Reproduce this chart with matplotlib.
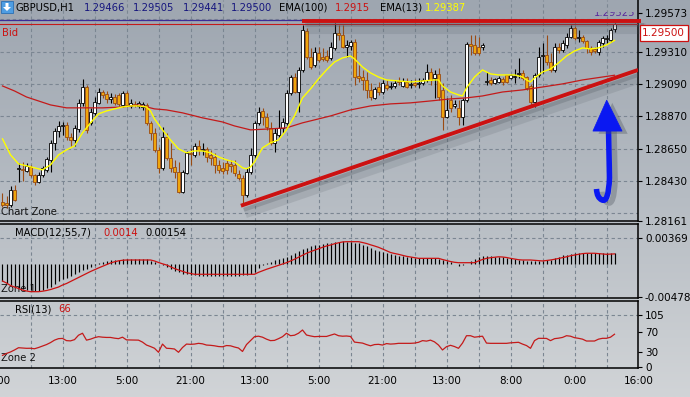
import numpy as np
import matplotlib
matplotlib.use("Agg")
import matplotlib.pyplot as plt
import matplotlib.patheffects as pe
from matplotlib.colors import LinearSegmentedColormap
from matplotlib.patches import Rectangle, Polygon, PathPatch
from matplotlib.path import Path
from matplotlib.transforms import Bbox, blended_transform_factory

# GBPUSD H1 candles (bar index 0 = left edge)
open_ = [
    1.28288, 1.28282, 1.28268, 1.28370, 1.28513, 1.28513, 1.28499, 1.28526, 1.28472, 1.28424,  # 0
    1.28472, 1.28506, 1.28574, 1.28690, 1.28771, 1.28805, 1.28812, 1.28730, 1.28710, 1.28785,  # 10
    1.28962, 1.29070, 1.28826, 1.28894, 1.28962, 1.29036, 1.29023, 1.28989, 1.29002, 1.29016,  # 20
    1.28948, 1.29030, 1.28941, 1.28955, 1.28941, 1.28934, 1.28948, 1.28826, 1.28758, 1.28642,  # 30
    1.28520, 1.28730, 1.28588, 1.28526, 1.28492, 1.28356, 1.28486, 1.28622, 1.28608, 1.28669,  # 40
    1.28642, 1.28649, 1.28608, 1.28594, 1.28540, 1.28520, 1.28554, 1.28547, 1.28540, 1.28479,  # 50
    1.28452, 1.28336, 1.28492, 1.28608, 1.28826, 1.28907, 1.28866, 1.28792, 1.28690, 1.28744,  # 60
    1.28792, 1.28826, 1.29030, 1.29138, 1.29036, 1.29186, 1.29451, 1.29274, 1.29220, 1.29302,  # 70
    1.29274, 1.29281, 1.29268, 1.29336, 1.29438, 1.29424, 1.29342, 1.29349, 1.29376, 1.29145,  # 80
    1.29138, 1.29118, 1.29050, 1.28996, 1.29070, 1.29036, 1.29084, 1.29070, 1.29077, 1.29111,  # 90
    1.29077, 1.29104, 1.29084, 1.29098, 1.29091, 1.29098, 1.29118, 1.29172, 1.29132, 1.29159,  # 100
    1.29050, 1.28866, 1.28982, 1.28941, 1.28928, 1.28866, 1.28982, 1.29363, 1.29356, 1.29342,  # 110
    1.29342, 1.29104, 1.29118, 1.29098, 1.29104, 1.29125, 1.29152, 1.29132, 1.29138, 1.29159,  # 120
    1.29166, 1.29138, 1.29077, 1.28968, 1.29152, 1.29281, 1.29288, 1.29240, 1.29186, 1.29342,  # 130
    1.29322, 1.29356, 1.29410, 1.29472, 1.29404, 1.29410, 1.29383, 1.29336, 1.29329, 1.29308,  # 140
    1.29370, 1.29397, 1.29390, 1.29466,  # 150
]
high = [
    1.28350, 1.28329, 1.28397, 1.28404, 1.28554, 1.28560, 1.28554, 1.28540, 1.28479, 1.28492,  # 0
    1.28533, 1.28594, 1.28710, 1.28792, 1.28839, 1.28832, 1.28832, 1.28758, 1.28812, 1.28989,  # 10
    1.29125, 1.29084, 1.28928, 1.29002, 1.29064, 1.29050, 1.29043, 1.29030, 1.29023, 1.29030,  # 20
    1.29043, 1.29043, 1.28989, 1.28975, 1.28975, 1.28968, 1.28962, 1.28839, 1.28792, 1.28662,  # 30
    1.28798, 1.28758, 1.28690, 1.28574, 1.28560, 1.28506, 1.28635, 1.28656, 1.28690, 1.28710,  # 40
    1.28690, 1.28662, 1.28642, 1.28622, 1.28574, 1.28560, 1.28574, 1.28574, 1.28574, 1.28506,  # 50
    1.28472, 1.28520, 1.28656, 1.28839, 1.28934, 1.28928, 1.28894, 1.28832, 1.28792, 1.28914,  # 60
    1.28860, 1.29050, 1.29152, 1.29166, 1.29206, 1.29492, 1.29472, 1.29336, 1.29342, 1.29342,  # 70
    1.29336, 1.29322, 1.29376, 1.29506, 1.29492, 1.29492, 1.29390, 1.29390, 1.29397, 1.29220,  # 80
    1.29186, 1.29172, 1.29098, 1.29070, 1.29104, 1.29118, 1.29118, 1.29104, 1.29118, 1.29138,  # 90
    1.29132, 1.29132, 1.29118, 1.29125, 1.29132, 1.29132, 1.29227, 1.29200, 1.29186, 1.29200,  # 100
    1.29098, 1.28996, 1.29016, 1.28982, 1.28982, 1.28996, 1.29376, 1.29424, 1.29424, 1.29410,  # 110
    1.29370, 1.29172, 1.29138, 1.29132, 1.29145, 1.29138, 1.29152, 1.29159, 1.29193, 1.29268,  # 120
    1.29186, 1.29145, 1.29091, 1.29166, 1.29342, 1.29370, 1.29424, 1.29302, 1.29370, 1.29370,  # 130
    1.29390, 1.29438, 1.29492, 1.29485, 1.29458, 1.29424, 1.29390, 1.29349, 1.29342, 1.29390,  # 140
    1.29417, 1.29424, 1.29472, 1.29505,  # 150
]
low = [
    1.28254, 1.28248, 1.28254, 1.28295, 1.28424, 1.28431, 1.28492, 1.28458, 1.28404, 1.28418,  # 0
    1.28458, 1.28492, 1.28492, 1.28642, 1.28730, 1.28744, 1.28710, 1.28669, 1.28669, 1.28764,  # 10
    1.28941, 1.28758, 1.28812, 1.28880, 1.28955, 1.28996, 1.28962, 1.28962, 1.28948, 1.28941,  # 20
    1.28934, 1.28934, 1.28928, 1.28934, 1.28928, 1.28914, 1.28812, 1.28710, 1.28628, 1.28486,  # 30
    1.28506, 1.28574, 1.28492, 1.28452, 1.28350, 1.28350, 1.28479, 1.28540, 1.28594, 1.28608,  # 40
    1.28608, 1.28560, 1.28540, 1.28486, 1.28486, 1.28479, 1.28479, 1.28492, 1.28465, 1.28438,  # 50
    1.28275, 1.28322, 1.28479, 1.28594, 1.28812, 1.28812, 1.28778, 1.28676, 1.28628, 1.28730,  # 60
    1.28758, 1.28812, 1.29016, 1.29030, 1.28900, 1.29172, 1.29261, 1.29193, 1.29206, 1.29240,  # 70
    1.29247, 1.29240, 1.29254, 1.29322, 1.29390, 1.29336, 1.29274, 1.29322, 1.29084, 1.29104,  # 80
    1.29050, 1.28996, 1.28982, 1.28989, 1.29016, 1.29023, 1.29050, 1.29057, 1.29064, 1.29084,  # 90
    1.29070, 1.29064, 1.29064, 1.29070, 1.29064, 1.29084, 1.29104, 1.29084, 1.28996, 1.28982,  # 100
    1.28778, 1.28860, 1.28900, 1.28928, 1.28812, 1.28812, 1.28968, 1.29288, 1.29288, 1.29288,  # 110
    1.29322, 1.29084, 1.29084, 1.29091, 1.29098, 1.29084, 1.29098, 1.29125, 1.29098, 1.29132,  # 120
    1.29118, 1.29050, 1.28948, 1.28934, 1.29138, 1.29166, 1.29220, 1.29172, 1.29172, 1.29302,  # 130
    1.29308, 1.29336, 1.29404, 1.29390, 1.29376, 1.29370, 1.29302, 1.29288, 1.29302, 1.29288,  # 140
    1.29342, 1.29370, 1.29376, 1.29441,  # 150
]
close = [
    1.28268, 1.28268, 1.28370, 1.28302, 1.28520, 1.28506, 1.28533, 1.28472, 1.28424, 1.28472,  # 0
    1.28520, 1.28581, 1.28690, 1.28771, 1.28805, 1.28812, 1.28730, 1.28710, 1.28792, 1.28962,  # 10
    1.29070, 1.28778, 1.28900, 1.28968, 1.29036, 1.29016, 1.28989, 1.29002, 1.28962, 1.28955,  # 20
    1.29030, 1.28948, 1.28962, 1.28948, 1.28962, 1.28955, 1.28826, 1.28758, 1.28642, 1.28520,  # 30
    1.28730, 1.28588, 1.28520, 1.28492, 1.28356, 1.28492, 1.28622, 1.28615, 1.28669, 1.28642,  # 40
    1.28649, 1.28594, 1.28588, 1.28540, 1.28506, 1.28499, 1.28506, 1.28533, 1.28486, 1.28452,  # 50
    1.28336, 1.28492, 1.28608, 1.28826, 1.28900, 1.28866, 1.28798, 1.28690, 1.28758, 1.28792,  # 60
    1.28832, 1.29030, 1.29138, 1.29036, 1.29186, 1.29458, 1.29274, 1.29206, 1.29308, 1.29254,  # 70
    1.29261, 1.29254, 1.29342, 1.29438, 1.29424, 1.29342, 1.29356, 1.29376, 1.29138, 1.29132,  # 80
    1.29118, 1.29050, 1.29002, 1.29057, 1.29036, 1.29098, 1.29064, 1.29077, 1.29098, 1.29104,  # 90
    1.29111, 1.29070, 1.29091, 1.29084, 1.29098, 1.29118, 1.29172, 1.29118, 1.29159, 1.29002,  # 100
    1.28866, 1.28914, 1.28928, 1.28955, 1.28866, 1.28982, 1.29363, 1.29349, 1.29302, 1.29302,  # 110
    1.29356, 1.29111, 1.29098, 1.29125, 1.29132, 1.29104, 1.29104, 1.29152, 1.29145, 1.29166,  # 120
    1.29132, 1.29064, 1.28968, 1.29152, 1.29274, 1.29288, 1.29240, 1.29186, 1.29342, 1.29322,  # 130
    1.29370, 1.29410, 1.29472, 1.29404, 1.29410, 1.29383, 1.29336, 1.29308, 1.29315, 1.29376,  # 140
    1.29404, 1.29404, 1.29458, 1.29500,  # 150
]

# moving averages, read at selected bars
ema13_bars = [0, 2, 4, 6, 8, 10, 12, 14, 16, 18, 20, 22, 24, 26, 28, 30, 32, 34, 36, 37,
              38, 40, 42, 44, 46, 48, 50, 52, 54, 56, 58, 60, 61, 62, 63, 65, 67, 69, 71, 73,
              75, 77, 79, 81, 83, 85, 87, 88, 90, 92, 94, 96, 99, 102, 105, 108, 109, 110, 112, 114,
              115, 116, 118, 120, 121, 122, 124, 128, 130, 131, 132, 133, 135, 137, 139, 141, 143, 145, 147, 149,
              151, 153]
ema13 = [1.28717, 1.28608, 1.28547, 1.28533, 1.28520, 1.28506, 1.28540, 1.28608, 1.28642, 1.28669,
         1.28758, 1.28826, 1.28887, 1.28907, 1.28921, 1.28934, 1.28941, 1.28941, 1.28934, 1.28907,
         1.28853, 1.28778, 1.28710, 1.28649, 1.28622, 1.28635, 1.28635, 1.28622, 1.28594, 1.28574,
         1.28560, 1.28520, 1.28513, 1.28526, 1.28560, 1.28656, 1.28690, 1.28710, 1.28778, 1.28873,
         1.28996, 1.29057, 1.29125, 1.29186, 1.29240, 1.29268, 1.29281, 1.29261, 1.29206, 1.29166,
         1.29138, 1.29118, 1.29111, 1.29104, 1.29111, 1.29118, 1.29118, 1.29077, 1.29036, 1.29016,
         1.29009, 1.29064, 1.29138, 1.29186, 1.29172, 1.29159, 1.29152, 1.29152, 1.29138, 1.29118,
         1.29104, 1.29132, 1.29172, 1.29193, 1.29234, 1.29281, 1.29315, 1.29336, 1.29329, 1.29336,
         1.29356, 1.29387]
ema100_bars = [0, 3, 6, 9, 12, 16, 20, 25, 30, 34, 38, 41, 45, 50, 55, 58, 62, 67, 71, 75,
               78, 82, 87, 92, 97, 102, 107, 112, 116, 120, 125, 130, 135, 140, 145, 150, 153]
ema100 = [1.29077, 1.29043, 1.29002, 1.28975, 1.28948, 1.28928, 1.28928, 1.28928, 1.28934, 1.28948,
          1.28921, 1.28914, 1.28894, 1.28860, 1.28832, 1.28805, 1.28778, 1.28785, 1.28792, 1.28826,
          1.28846, 1.28873, 1.28914, 1.28941, 1.28955, 1.28962, 1.28975, 1.28989, 1.28996, 1.29009,
          1.29036, 1.29050, 1.29070, 1.29091, 1.29118, 1.29138, 1.29150]

# MACD(12,55,7) histogram and signal
macd_hist = [
    -0.00251, -0.00280, -0.00309, -0.00330, -0.00352, -0.00367, -0.00374, -0.00381, -0.00395, -0.00388,
    -0.00374, -0.00359, -0.00338, -0.00294, -0.00258, -0.00222, -0.00201, -0.00179, -0.00150, -0.00128,
    -0.00092, -0.00071, -0.00049, -0.00020, 0.00009, 0.00030, 0.00042, 0.00048, 0.00052, 0.00059,
    0.00062, 0.00062, 0.00062, 0.00062, 0.00062, 0.00062, 0.00062, 0.00038, 0.00016, 0.00001,
    -0.00027, -0.00045, -0.00078, -0.00107, -0.00128, -0.00150, -0.00157, -0.00165, -0.00170, -0.00172,
    -0.00174, -0.00175, -0.00175, -0.00175, -0.00175, -0.00175, -0.00175, -0.00174, -0.00173, -0.00172,
    -0.00170, -0.00168, -0.00150, -0.00121, -0.00063, -0.00020, 0.00009, 0.00030, 0.00052, 0.00066,
    0.00081, 0.00102, 0.00124, 0.00153, 0.00182, 0.00211, 0.00229, 0.00247, 0.00261, 0.00268,
    0.00283, 0.00290, 0.00297, 0.00312, 0.00316, 0.00326, 0.00316, 0.00312, 0.00302, 0.00290,
    0.00268, 0.00247, 0.00225, 0.00196, 0.00182, 0.00167, 0.00153, 0.00139, 0.00124, 0.00114,
    0.00105, 0.00100, 0.00091, 0.00085, 0.00085, 0.00085, 0.00085, 0.00081, 0.00076, 0.00066,
    0.00052, 0.00035, 0.00016, -0.00006, -0.00030, -0.00025, 0.00001, 0.00038, 0.00071, 0.00095,
    0.00110, 0.00110, 0.00105, 0.00100, 0.00095, 0.00091, 0.00085, 0.00076, 0.00066, 0.00059,
    0.00052, 0.00042, 0.00038, 0.00038, 0.00038, 0.00042, 0.00048, 0.00052, 0.00074, 0.00100,
    0.00117, 0.00124, 0.00139, 0.00149, 0.00153, 0.00157, 0.00157, 0.00157, 0.00157, 0.00153,
    0.00149, 0.00149, 0.00149, 0.00154,
]
macd_signal = [
    -0.00251, -0.00280, -0.00316, -0.00338, -0.00359, -0.00381, -0.00395, -0.00405, -0.00405, -0.00405,
    -0.00398, -0.00388, -0.00374, -0.00356, -0.00338, -0.00309, -0.00287, -0.00258, -0.00229, -0.00201,
    -0.00172, -0.00143, -0.00114, -0.00088, -0.00063, -0.00039, -0.00016, 0.00009, 0.00026, 0.00040,
    0.00048, 0.00052, 0.00052, 0.00052, 0.00052, 0.00052, 0.00052, 0.00052, 0.00038, 0.00016,
    -0.00003, -0.00020, -0.00046, -0.00071, -0.00092, -0.00111, -0.00131, -0.00143, -0.00154, -0.00154,
    -0.00154, -0.00154, -0.00154, -0.00154, -0.00154, -0.00154, -0.00154, -0.00154, -0.00154, -0.00154,
    -0.00154, -0.00154, -0.00154, -0.00154, -0.00126, -0.00104, -0.00082, -0.00063, -0.00045, -0.00025,
    -0.00006, 0.00013, 0.00038, 0.00063, 0.00091, 0.00120, 0.00149, 0.00172, 0.00193, 0.00214,
    0.00235, 0.00254, 0.00268, 0.00286, 0.00300, 0.00312, 0.00316, 0.00316, 0.00316, 0.00316,
    0.00304, 0.00290, 0.00271, 0.00254, 0.00235, 0.00211, 0.00185, 0.00160, 0.00146, 0.00134,
    0.00120, 0.00105, 0.00095, 0.00085, 0.00076, 0.00076, 0.00076, 0.00076, 0.00076, 0.00076,
    0.00059, 0.00045, 0.00030, 0.00019, 0.00013, 0.00013, 0.00013, 0.00013, 0.00013, 0.00038,
    0.00059, 0.00076, 0.00085, 0.00091, 0.00098, 0.00095, 0.00088, 0.00076, 0.00066, 0.00056,
    0.00052, 0.00052, 0.00052, 0.00048, 0.00043, 0.00038, 0.00045, 0.00052, 0.00062, 0.00074,
    0.00085, 0.00098, 0.00113, 0.00124, 0.00134, 0.00144, 0.00149, 0.00149, 0.00149, 0.00144,
    0.00139, 0.00134, 0.00137, 0.00140,
]

# RSI(13)
rsi = [
    23, 27, 30, 34, 38.6, 38, 37.4, 37.5, 36.5, 39,
    42, 45, 49, 54, 57, 57.5, 53, 52.5, 55, 64,
    68, 54, 56, 59, 61, 60, 59.5, 59.5, 58, 57,
    60, 54.5, 54.3, 54.3, 54, 50, 44, 41, 37.5, 29.3,
    46, 37.5, 37, 36, 29.3, 39, 46, 45.5, 46, 47.5,
    46.5, 44, 43.5, 42.5, 41, 40.5, 43, 42.5, 40, 38,
    31, 45, 53, 61, 62, 60, 56, 53, 53.5, 57,
    61, 68, 63, 64, 68, 74.6, 64.4, 62.5, 61, 61.5,
    61.5, 61.5, 64, 66.5, 63, 62, 62.4, 61.5, 50, 49,
    48, 45, 42.5, 45, 45.5, 44, 47, 46, 46.5, 47.5,
    47.5, 47.5, 47.5, 48, 49.6, 53, 52, 54, 50.5, 44,
    34, 40.7, 43.5, 41, 37.4, 48, 63, 63, 60, 61,
    62, 48, 47.5, 47.5, 47.5, 47.5, 47.5, 48.5, 49, 49.6,
    46, 43, 37.4, 53, 57.7, 57.7, 57.5, 53, 57, 58,
    59.5, 63, 62, 59, 57.7, 56, 52.2, 52.2, 52.2, 56,
    57.7, 57.7, 60, 66,
]

bid_price = 1.29500
ask_price = 1.29525

price_ticks = [1.29573, 1.29310, 1.29090, 1.28870, 1.28650, 1.28430, 1.28161]
price_grid = [1.29530, 1.29310, 1.29090, 1.28870, 1.28650, 1.28430, 1.28210]
macd_ticks = [0.00369, -0.00478]
rsi_ticks = [105, 70, 30, 0]

time_labels = ['0:00', '13:00', '5:00', '21:00', '13:00', '5:00', '21:00',
               '13:00', '8:00', '0:00', '16:00']
time_bars = [-1, 15, 31, 47, 63, 79, 95, 111, 127, 143, 159]
grid_bars = list(range(7, 152, 8))

# objects drawn on the chart (bar index, price)
resistance_bars = [74.9, 159.6]
resistance_prices = [1.29520, 1.29520]
support_bars = [59.6, 158.9]
support_prices = [1.28262, 1.29186]
arrow_head = [(147.6, 1.28770), (151.05, 1.28981), (154.9, 1.28770)]
arrow_shaft = [(151.5, 1.28791), (151.75, 1.28451), (151.5, 1.28280),
               (149.9, 1.28301), (148.6, 1.28315), (148.5, 1.28376)]

W, H = 690, 397
X_MIN, X_MAX = -0.625, 158.875

GRID_COLOR = '#7b8692'
BEAR_BODY = '#efa60c'
BEAR_EDGE = '#9a4b12'
RED = '#cc1111'
NAVY = '#16167e'
BLUE = '#0a18f2'
FS = 7.2


def fpx(x, y):
    """pixel position measured from the top-left corner -> figure fraction"""
    return x / W, 1 - y / H


def make_panel(fig, top, bottom, ylim, ticks, labels):
    a = fig.add_axes([0, 1 - bottom / H, 638 / W, (bottom - top) / H])
    a.set_xlim(X_MIN, X_MAX)
    a.set_ylim(*ylim)
    a.patch.set_alpha(0)
    a.spines['left'].set_visible(False)
    for s in ['top', 'bottom', 'right']:
        a.spines[s].set_color('black')
        a.spines[s].set_linewidth(1.1)
    a.set_xticks([])
    a.yaxis.tick_right()
    a.set_yticks(ticks)
    a.set_yticklabels(labels)
    a.tick_params(axis='y', length=3, width=0.8, pad=2, labelsize=7.5, colors='black')
    for b in grid_bars:
        a.axvline(b, color=GRID_COLOR, lw=0.8, ls=(0, (3, 2.5)), zorder=1)
    return a


def create_chart():
    fig = plt.figure(figsize=(W / 100, H / 100), dpi=100)

    # grey gradient background
    bg = fig.add_axes([0, 0, 1, 1], zorder=-10)
    cmap = LinearSegmentedColormap.from_list('bg', ['#9ea6b0', '#b6bcc3', '#d1d4d7'])
    bg.imshow(np.linspace(0, 1, 256).reshape(-1, 1), aspect='auto', cmap=cmap,
              extent=[0, 1, 0, 1], origin='upper')
    bg.set_axis_off()

    # ---------------- price panel ----------------
    ax = make_panel(fig, 0, 221, (1.28158, 1.29662), price_ticks,
                    [f'{p:.5f}' for p in price_ticks])
    ax.spines['top'].set_visible(False)
    for g in price_grid:
        ax.axhline(g, color=GRID_COLOR, lw=0.8, ls=(0, (3, 2.5)), zorder=1)

    o = np.array(open_)
    c = np.array(close)
    h = np.array(high)
    l = np.array(low)
    x = np.arange(len(c))
    up = c >= o
    body = np.maximum(np.abs(c - o), 0.00003)
    base = np.minimum(o, c)
    ax.vlines(x[up], l[up], h[up], color='black', lw=0.8, zorder=4)
    ax.vlines(x[~up], l[~up], h[~up], color=BEAR_EDGE, lw=0.8, zorder=4)
    ax.bar(x[up], body[up], bottom=base[up], width=0.72, color='white',
           edgecolor='black', lw=0.6, zorder=5)
    ax.bar(x[~up], body[~up], bottom=base[~up], width=0.72, color=BEAR_BODY,
           edgecolor=BEAR_EDGE, lw=0.6, zorder=5)

    ax.plot(ema100_bars, ema100, color='#c41a1a', lw=0.9, zorder=6)
    ax.plot(ema13_bars, ema13, color='#ffff00', lw=1.0, zorder=6)

    ax.axhline(ask_price, color='#3b2b98', lw=0.9, zorder=6)
    ax.axhline(bid_price, color='#c41a1a', lw=0.8, zorder=6)

    shadow = [pe.SimpleLineShadow(offset=(3, -5), shadow_color='#4c545c', alpha=0.15, linewidth=8),
              pe.SimpleLineShadow(offset=(2, -3), shadow_color='#4c545c', alpha=0.25),
              pe.Normal()]
    ax.plot(resistance_bars, resistance_prices, color=RED, lw=2.8, solid_capstyle='butt',
            clip_on=False, zorder=8, path_effects=shadow)
    ax.plot(support_bars, support_prices, color=RED, lw=2.8, solid_capstyle='butt',
            zorder=8, path_effects=shadow)

    # blue arrow
    codes = [Path.MOVETO, Path.LINETO, Path.CURVE3, Path.CURVE3, Path.CURVE3, Path.CURVE3]
    shaft = PathPatch(Path(arrow_shaft, codes), fill=False, ec=BLUE, lw=4.0,
                      capstyle='butt', joinstyle='round', zorder=9,
                      path_effects=[pe.SimpleLineShadow(offset=(4, -2), shadow_color='#4c545c',
                                                        alpha=0.35), pe.Normal()])
    ax.add_patch(shaft)
    head = Polygon(arrow_head, closed=True, fc=BLUE, ec=BLUE, lw=0.5, zorder=9,
                   path_effects=[pe.SimplePatchShadow(offset=(4, -2), shadow_rgbFace='#4c545c',
                                                      alpha=0.35), pe.Normal()])
    ax.add_patch(head)

    # current price box
    ax.annotate(f'{bid_price:.5f}', xy=(1, bid_price), xycoords=('axes fraction', 'data'),
                xytext=(3, -3), textcoords='offset points', ha='left', va='top',
                color=RED, fontsize=7.5, annotation_clip=False, zorder=10,
                bbox=dict(boxstyle='square,pad=0.25', fc='white', ec=RED, lw=0.9))

    # ask price label, its upper half hidden behind the header
    ask_txt = fig.text(*fpx(635, 13), f'{ask_price:.5f}', ha='right', va='center',
                       color='#5b2c9c', fontsize=FS)
    ask_txt.set_clip_box(Bbox.from_extents(0, 0, W, H - 12))
    ask_txt.set_clip_on(True)

    # header line
    icon = Rectangle(fpx(1, 13), 12 / W, 12 / H, transform=fig.transFigure,
                     fc='#4e9de2', ec='#2b6fb3', lw=0.6)
    fig.add_artist(icon)
    arrow_pts = [fpx(*p) for p in [(5.5, 3), (8.5, 3), (8.5, 7), (11, 7), (7, 11), (3, 7), (5.5, 7)]]
    fig.add_artist(Polygon(arrow_pts, closed=True, transform=fig.transFigure, fc='white', ec='none'))

    header = [('GBPUSD,H1', 'black', 15),
              (f'{open_[-1]:.5f}', NAVY, 84), (f'{high[-1]:.5f}', NAVY, 133),
              (f'{low[-1]:.5f}', NAVY, 183), (f'{close[-1]:.5f}', NAVY, 231),
              ('EMA(100)', 'black', 279), (f'{ema100[-1]:.4f}', RED, 335),
              ('EMA(13)', 'black', 380), (f'{ema13[-1]:.5f}', '#ffff00', 425)]
    for txt, col, xp in header:
        fig.text(*fpx(xp, 8), txt, color=col, fontsize=FS, ha='left', va='center')

    fig.text(*fpx(2, 33), 'Bid', color=RED, fontsize=FS, ha='left', va='center')
    fig.text(*fpx(1, 212), 'Chart Zone', color='#151515', fontsize=FS, ha='left', va='center')

    # ---------------- MACD panel ----------------
    axm = make_panel(fig, 224, 298, (-0.00496, 0.00571), macd_ticks,
                     [f'{v:.5f}' for v in macd_ticks])
    axm.axhline(macd_ticks[0], color=GRID_COLOR, lw=0.8, ls=(0, (3, 2.5)), zorder=1)
    axm.text(0.002, (298 - 289) / 74, 'Zone 1', transform=axm.transAxes,
             fontsize=FS, color='#151515', va='center', ha='left', zorder=2)
    xm = np.arange(len(macd_hist))
    axm.vlines(xm, 0, macd_hist, color='black', lw=0.85, zorder=3)
    axm.plot(np.arange(len(macd_signal)), macd_signal, color=RED, lw=0.9, zorder=4)
    fig.text(*fpx(15, 233), 'MACD(12,55,7)', color='black', fontsize=FS, va='center')
    fig.text(*fpx(103, 233), f'{macd_signal[-1]:.4f}', color=RED, fontsize=FS, va='center')
    fig.text(*fpx(145, 233), f'{macd_hist[-1]:.5f}', color='black', fontsize=FS, va='center')

    # ---------------- RSI panel ----------------
    axr = make_panel(fig, 301, 368, (-2.6, 133.5), rsi_ticks, [str(v) for v in rsi_ticks])
    axr.axhline(rsi_ticks[0], color=GRID_COLOR, lw=0.8, ls=(0, (3, 2.5)), zorder=1)
    axr.text(0.002, (368 - 358) / 67, 'Zone 2', transform=axr.transAxes,
             fontsize=FS, color='#151515', va='center', ha='left', zorder=2)
    axr.plot(np.arange(len(rsi)), rsi, color='#c41a1a', lw=0.9, zorder=4)
    fig.text(*fpx(15, 309), 'RSI(13)', color='black', fontsize=FS, va='center')
    fig.text(*fpx(58, 309), f'{rsi[-1]:.0f}', color=RED, fontsize=FS, va='center')

    # time axis labels (the first one is cut by the left edge, as in the source)
    trans = blended_transform_factory(axr.transData, axr.transAxes)
    for b, lab in zip(time_bars, time_labels):
        axr.text(b, -(381 - 368) / 67, lab, transform=trans, ha='center', va='center',
                 fontsize=7.5, color='black', clip_on=False)

    fig.savefig('out.png', dpi=100)
    print("Chart saved as out.png")


if __name__ == "__main__":
    create_chart()
